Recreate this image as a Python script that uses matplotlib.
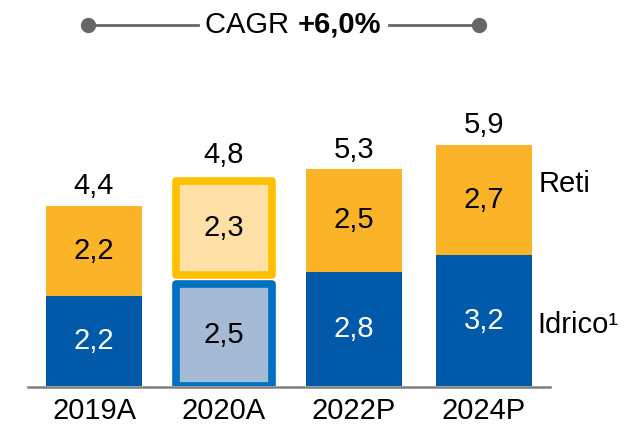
import matplotlib.pyplot as plt

years = ['2019A', '2020A', '2022P', '2024P']
idrico = [2.2, 2.5, 2.8, 3.2]
reti = [2.2, 2.3, 2.5, 2.7]
totals = [4.4, 4.8, 5.3, 5.9]
highlight = [False, True, False, False]
cagr_text = ('CAGR ', '+6,0%')

BLUE = '#005AA9'
ORANGE = '#FBB427'
BLUE_EDGE = '#0070C0'
BLUE_FILL = '#A5BBD5'
ORANGE_EDGE = '#FFC000'
ORANGE_FILL = '#FFE0A6'

plt.rcParams['font.family'] = ['Liberation Sans', 'DejaVu Sans']

fig = plt.figure(figsize=(6.26, 4.33), dpi=100)
ax = fig.add_axes([28 / 626, 47 / 433, 522 / 626, 386 / 433])
ax.set_xlim(-0.508, 3.508)
ax.set_ylim(0, 9.44)
ax.axis('off')

w = 0.74
fs = 21
gap = 0.22
x = range(len(years))


def fmt(v):
    return f'{v:.1f}'.replace('.', ',')


for i in x:
    if highlight[i]:
        ax.bar(i, idrico[i], width=w, color=BLUE_FILL, edgecolor=BLUE_EDGE,
               linewidth=5.5, joinstyle='round')
        ax.bar(i, reti[i], bottom=idrico[i] + gap, width=w, color=ORANGE_FILL,
               edgecolor=ORANGE_EDGE, linewidth=5.5, joinstyle='round')
        ax.text(i, idrico[i] / 2, fmt(idrico[i]),
                ha='center', va='center', fontsize=fs, color='black')
        ax.text(i, idrico[i] + gap + reti[i] / 2, fmt(reti[i]),
                ha='center', va='center', fontsize=fs, color='black')
        top = idrico[i] + gap + reti[i] + 0.15
    else:
        ax.bar(i, idrico[i], width=w, color=BLUE, linewidth=0)
        ax.bar(i, reti[i], bottom=idrico[i], width=w, color=ORANGE, linewidth=0)
        ax.text(i, idrico[i] / 2, fmt(idrico[i]),
                ha='center', va='center', fontsize=fs, color='white')
        ax.text(i, idrico[i] + reti[i] / 2, fmt(reti[i]),
                ha='center', va='center', fontsize=fs, color='black')
        top = totals[i]
    ax.text(i, top + 0.48, fmt(totals[i]),
            ha='center', va='center', fontsize=fs, color='black')
    ax.text(i, -0.62, years[i], ha='center', va='center', fontsize=fs, color='black')

# x axis line
ax.plot([-0.508, 3.508], [-0.02, -0.02], color='#7F7F7F', lw=1.8, clip_on=False)

# series labels on the right
ax.text(3.42, 4.95, 'Reti', ha='left', va='center', fontsize=fs)
ax.text(3.41, 1.5, 'Idrico¹', ha='left', va='center', fontsize=fs)

# CAGR line
yc = 8.83
t1 = ax.text(0.855, yc, cagr_text[0], ha='left', va='center', fontsize=fs)
fig.canvas.draw()
inv = ax.transData.inverted()
x_mid = inv.transform((t1.get_window_extent().x1, 0))[0]
t2 = ax.text(x_mid, yc, cagr_text[1], ha='left', va='center', fontsize=fs, fontweight='bold')
fig.canvas.draw()
x_right = inv.transform((t2.get_window_extent().x1, 0))[0]
ax.plot([-0.046, 0.80], [yc, yc], color='#666666', lw=2, clip_on=False)
ax.plot([x_right + 0.06, 2.96], [yc, yc], color='#666666', lw=2, clip_on=False)
ax.plot([-0.046, 2.96], [yc, yc], 'o', color='#666666', ms=10, clip_on=False)

fig.savefig('out.png', dpi=100)
